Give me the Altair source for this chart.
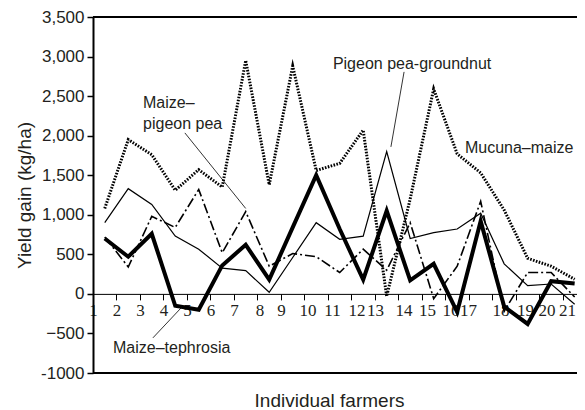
import altair as alt
import pandas as pd

# ---- data ----
farmers = list(range(1, 22))
maize_tephrosia = [700, 470, 760, -150, -200, 360, 620, 180, 840, 1500, 820, 180,
                   1050, 170, 380, -230, 920, -160, -380, 160, 130]
pigeonpea_groundnut = [900, 1330, 1130, 730, 565, 325, 295, 20, 460, 900, 690, 730,
                       1800, 700, 775, 820, 1020, 380, 105, 125, -130]
maize_pigeonpea = [720, 340, 980, 840, 1320, 520, 1040, 350, 510, 470, 270, 565,
                   300, 900, -60, 350, 1170, -220, 270, 270, -40]
mucuna_maize = [1080, 1950, 1760, 1310, 1570, 1350, 2950, 1380, 2880, 1560, 1650, 2070,
                -30, 1200, 2590, 1770, 1530, 1060, 450, 350, 185]

series_names = ["Mucuna–maize", "Pigeon pea-groundnut", "Maize–pigeon pea", "Maize–tephrosia"]
series_values = [mucuna_maize, pigeonpea_groundnut, maize_pigeonpea, maize_tephrosia]

x_ticks = list(range(1, 22))
y_ticks = list(range(-1000, 3501, 500))
x_domain = [1, 21.6]
y_domain = [-1000, 3500]

# small shifts of some farmer labels, as placed in the original figure
label_shift_farmer = [8, 10, 11, 12, 14, 15, 16, 17, 18, 19, 20, 21]
label_shift_px = [2, 3, 4, 5, 5, 5, 5, -1, 8, 9, 7, 4]

# annotation labels and leader lines
label_text = ["Maize–", "pigeon pea", "Pigeon pea-groundnut", "Mucuna–maize", "Maize–tephrosia"]
label_x = [3.13, 3.13, 11.21, 16.83, 1.85]
label_y = [2414, 2149, 2907, 1845, -683]
leader_x = [4.91, 14.24, 3.55]
leader_y = [2035, 2806, -556]
leader_x2 = [7.50, 13.68, 4.75]
leader_y2 = [1080, 1858, -177]

# ---- build tables ----
rows = []
for name, vals in zip(series_names, series_values):
    for f, v in zip(farmers, vals):
        rows.append({"series": name, "farmer": f, "gain": v})
df = pd.DataFrame(rows)

labels_df = pd.DataFrame({"xpos": label_x, "gain": label_y, "text": label_text})
leaders_df = pd.DataFrame({"xpos": leader_x, "gain": leader_y, "xpos2": leader_x2, "gain2": leader_y2})
border_df = pd.DataFrame({"gain": y_domain})

W, H = 484, 356
zero_offset = -(0 - y_domain[0]) / (y_domain[1] - y_domain[0]) * H

FONT = "Liberation Sans"
TXT = "#231f20"

x_scale = alt.Scale(domain=x_domain, nice=False, zero=False)
y_scale = alt.Scale(domain=y_domain, nice=False, zero=False)

label_offset = {
    "condition": [
        {"test": f"datum.value == {f}", "value": s}
        for f, s in zip(label_shift_farmer, label_shift_px)
    ],
    "value": 0,
}

x_axis = alt.Axis(
    values=x_ticks, format="d", offset=zero_offset, grid=False,
    domainColor="black", domainWidth=1, tickColor="black", tickSize=6, tickWidth=1,
    labelFont="Liberation Sans Narrow", labelFontSize=17, labelColor=TXT, labelPadding=3,
    labelFlush=False, labelOverlap=False, labelOffset=label_offset,
    title="Individual farmers", titleFont=FONT, titleFontSize=19, titleFontWeight="normal",
    titleColor=TXT, titleX=236, titleY=107, titleAlign="center", titleBaseline="middle",
)
y_axis = alt.Axis(
    values=y_ticks, grid=False,
    labelExpr="datum.value == -1000 ? '-1000' : format(datum.value, ',')",
    domainColor="black", domainWidth=2, tickColor="black", tickSize=6, tickWidth=1.5,
    labelFont=FONT, labelFontSize=17, labelColor=TXT, labelPadding=3,
    title="Yield gain (kg/ha)", titleFont=FONT, titleFontSize=19, titleFontWeight="normal",
    titleColor=TXT, titleAngle=270, titleX=-69, titleY=H / 2, titleAlign="center",
    titleBaseline="middle",
)

X = alt.X("xpos:Q", scale=x_scale, axis=x_axis)
Y = alt.Y("gain:Q", scale=y_scale, axis=y_axis)

styles = {
    "Mucuna–maize": dict(strokeWidth=3, strokeDash=[1.6, 1.4]),
    "Pigeon pea-groundnut": dict(strokeWidth=1.2),
    "Maize–pigeon pea": dict(strokeWidth=1.6, strokeDash=[10, 3, 2, 3]),
    "Maize–tephrosia": dict(strokeWidth=4),
}

base = alt.Chart(df).transform_calculate(xpos="datum.farmer + 0.5")

line_layers = []
for name in series_names:
    line_layers.append(
        base.transform_filter(alt.datum.series == name)
        .mark_line(color="black", strokeJoin="miter", strokeMiterLimit=10, **styles[name])
        .encode(x=X, y=Y)
    )

borders = alt.Chart(border_df).mark_rule(color="black", strokeWidth=2).encode(y=Y)

leaders = alt.Chart(leaders_df).mark_rule(color="black", strokeWidth=0.8).encode(
    x=X, y=Y, x2="xpos2:Q", y2="gain2:Q",
)

texts = alt.Chart(labels_df).mark_text(
    align="left", baseline="middle", font=FONT, fontSize=16, color=TXT
).encode(x=X, y=Y, text="text:N")

chart = alt.layer(*line_layers, borders, leaders, texts).properties(
    width=W, height=H,
    autosize=alt.AutoSizeParams(type="none"),
    padding={"left": 85, "top": 9, "right": 0, "bottom": 37},
).configure_view(stroke=None).configure(background="white")

chart.save("out.html", embed_options={"renderer": "svg", "actions": False})
